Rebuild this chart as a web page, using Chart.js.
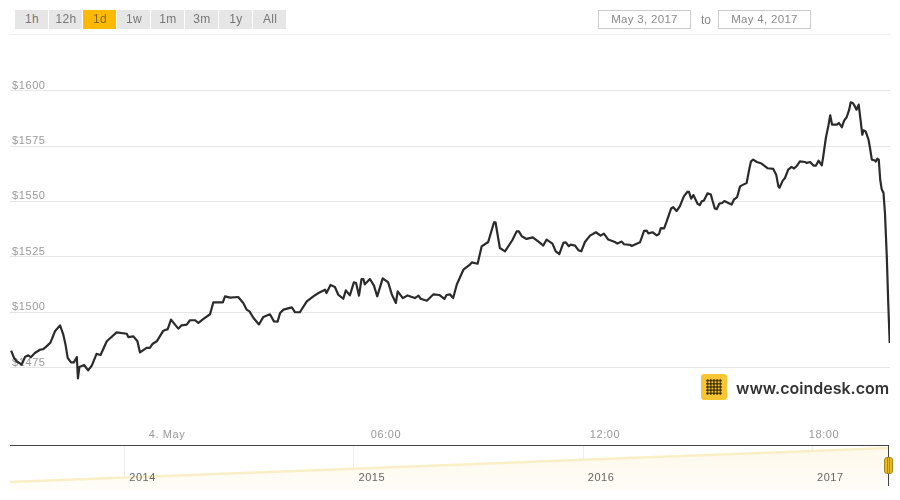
<!DOCTYPE html>
<html lang="en">
<head>
<meta charset="UTF-8">
<title>Bitcoin price - May 3, 2017 to May 4, 2017</title>
<script src="https://cdn.jsdelivr.net/npm/chart.js@4"></script>
<style>
    html, body { margin: 0; padding: 0; background: #fff; }
    #wrap { position: relative; width: 900px; height: 500px; overflow: hidden; font-family: "Liberation Sans", Arial, sans-serif; }
    canvas { position: absolute; left: 0; }
    #priceChart { top: 0; }
    #navChart { top: 445px; }
    .btn { position: absolute; top: 10px; width: 32px; padding-left: 1px; height: 19px; line-height: 19px; background: #e6e6e6; color: #777; font-size: 12px; letter-spacing: 0.3px; text-align: center; }
    .btn.active { background: #fdb900; color: #806a20; }
    .date { position: absolute; top: 10px; width: 91px; height: 17px; line-height: 17px; border: 1px solid #ccc; color: #888; font-size: 11.5px; letter-spacing: 0.3px; text-align: center; }
    #to { position: absolute; left: 701px; top: 13px; color: #888; font-size: 12px; }
    #topLine { position: absolute; left: 10px; top: 34px; width: 880px; height: 1px; background: #eee; }
    #navTop { position: absolute; left: 10px; top: 445px; width: 879px; height: 1px; border-top: 1px solid #444; }
    #navEnd { position: absolute; left: 888px; top: 445px; width: 1px; height: 41px; background: #444; }
    #handle { position: absolute; left: 884px; top: 457px; width: 7px; height: 15px; background: linear-gradient(90deg, #e8b923 0 2px, #a8861e 2px 3px, #e8b923 3px 4px, #a8861e 4px 5px, #e8b923 5px); border: 1px solid #a8861e; border-radius: 3px; }
    #logo { position: absolute; left: 701px; top: 374px; width: 26px; height: 26px; border-radius: 3px; background: #f9c633; }
    #dots { position: absolute; left: 5px; top: 5px; width: 16px; height: 16px; background-image: radial-gradient(circle, #3a2c08 1.2px, transparent 1.4px); background-size: 3.2px 3.2px; }
    #site { position: absolute; left: 736px; top: 378px; font-family: "Inter", sans-serif; font-weight: 600; font-size: 16px; color: #333; white-space: nowrap; }
</style>
</head>
<body>
<div id="wrap">
    <canvas id="priceChart" width="900" height="445"></canvas>
    <canvas id="navChart" width="900" height="45"></canvas>
    <div id="topLine"></div>
    <div id="ranges"></div>
    <div class="date" style="left:598px">May 3, 2017</div>
    <div id="to">to</div>
    <div class="date" style="left:718px">May 4, 2017</div>
    <div id="logo"><div id="dots"></div></div>
    <div id="site">www.coindesk.com</div>
    <div id="navTop"></div>
    <div id="navEnd"></div>
    <div id="handle"></div>
</div>

<script>
// range buttons
const rangeLabels = ['1h', '12h', '1d', '1w', '1m', '3m', '1y', 'All'];
const activeRange = '1d';

// hours relative to midnight of 4 May
const hours = [
    -4.27, -4.19, -4.12, -3.98, -3.89, -3.80, -3.73, -3.62, -3.48, -3.39, -3.30, -3.19, -3.07, -2.93, -2.84, -2.78, -2.72, -2.63, -2.55, -2.47, -2.44, -2.40, -2.27, -2.16, -2.06, -1.93, -1.82, -1.65, -1.38, -1.10, -1.06, -0.92, -0.81, -0.74, -0.56, -0.47, -0.39, -0.28, -0.10, 0.02, 0.11, 0.22, 0.31, 0.40, 0.54, 0.63, 0.77, 0.86, 1.00, 1.18, 1.27, 1.53, 1.59, 1.73, 1.95, 2.09, 2.18, 2.26, 2.37, 2.52, 2.64, 2.82, 2.93, 3.03, 3.10, 3.19, 3.42, 3.51,
    3.64, 3.83, 4.01, 4.15, 4.33, 4.37, 4.48, 4.60, 4.69, 4.83, 4.90, 5.01, 5.12, 5.18, 5.26, 5.33, 5.38, 5.42, 5.56, 5.67, 5.76, 5.91, 6.06, 6.16, 6.27, 6.32, 6.46, 6.59, 6.79, 6.89, 6.95, 7.12, 7.30, 7.46, 7.60, 7.66, 7.75, 7.84, 7.94, 8.12, 8.30, 8.35, 8.51, 8.62, 8.80, 8.90, 8.96, 9.00, 9.12, 9.26, 9.46, 9.58, 9.64, 9.72, 9.85, 10.02, 10.17,
    10.31, 10.40, 10.56, 10.65, 10.75, 10.86, 10.92, 11.01, 11.06, 11.18, 11.27, 11.35, 11.45, 11.59, 11.75, 11.88, 11.97, 12.09, 12.27, 12.34, 12.46, 12.52, 12.69, 12.73, 12.96, 13.07, 13.14, 13.19, 13.30, 13.42, 13.48,
    13.53, 13.62, 13.69, 13.81, 13.87, 13.96, 14.05, 14.16, 14.26, 14.30, 14.36, 14.42, 14.54, 14.60, 14.65, 14.71, 14.81, 14.90, 14.95, 15.01, 15.06, 15.13, 15.21, 15.27, 15.38, 15.47, 15.53, 15.62, 15.70, 15.79, 15.88, 15.95, 16.00, 16.06, 16.16, 16.29, 16.45, 16.61, 16.69, 16.75, 16.78,
    16.87, 16.93, 17.02, 17.11, 17.18, 17.25, 17.34, 17.48, 17.53, 17.62, 17.71, 17.78, 17.85, 17.94, 17.98, 18.05, 18.12, 18.17, 18.22, 18.35, 18.41, 18.49, 18.55, 18.62, 18.69, 18.73, 18.79, 18.83, 18.89, 18.95, 19.00, 19.05, 19.08, 19.14, 19.22, 19.26, 19.31, 19.38, 19.42, 19.46, 19.50, 19.54, 19.58, 19.63, 19.67, 19.72, 19.76, 19.80
];
const prices = [
    1482.7, 1479.4, 1477.9, 1476.4, 1479.8, 1480.6, 1479.7, 1481.6, 1483.1, 1483.4, 1484.6, 1486.4, 1491.4, 1494.1, 1489.9, 1485.4, 1479.4, 1477.4, 1477.4, 1479.8, 1470.2, 1475.3, 1476.2, 1473.8, 1475.9, 1481.2, 1480.7, 1486.9, 1490.9, 1490.3, 1488.8, 1489.1, 1486.9, 1481.9, 1483.9, 1483.9, 1485.8, 1486.9, 1491.7, 1492.4, 1496.7, 1494.4, 1492.6, 1494.1, 1494.4, 1496.4, 1496.4, 1495.2, 1497.0, 1499.1, 1504.5, 1504.5, 1507.2, 1506.6, 1506.9, 1504.2, 1501.2, 1500.4, 1497.4, 1494.5, 1497.9, 1499.1, 1495.9, 1495.8, 1499.7, 1501.2, 1502.2, 1500.0,
    1500.0, 1504.9, 1507.2, 1508.7, 1510.2, 1508.7, 1512.3, 1511.4, 1508.0, 1506.1, 1509.9, 1507.6, 1513.5, 1513.2, 1507.5, 1515.0, 1515.0, 1512.6, 1515.0, 1512.0, 1507.2, 1515.3, 1513.5, 1508.0, 1504.2, 1509.4, 1506.4, 1507.6, 1506.4, 1507.5, 1506.1, 1505.2, 1508.1, 1507.8, 1506.0, 1507.8, 1508.1, 1506.4, 1512.5, 1519.2, 1521.5, 1522.5, 1521.9, 1529.7, 1531.7, 1537.3, 1540.6, 1540.6, 1529.0, 1527.5, 1532.5, 1536.5, 1536.5, 1534.3, 1533.1, 1533.8, 1532.0,
    1530.1, 1532.8, 1531.0, 1527.5, 1526.3, 1531.3, 1531.6, 1529.8, 1530.5, 1530.1, 1528.0, 1527.5, 1531.7, 1534.6, 1536.1, 1534.6, 1535.5, 1532.8, 1531.7, 1531.0, 1531.9, 1530.7, 1530.4, 1529.9, 1531.6, 1536.7, 1536.8, 1535.6, 1536.1, 1534.7, 1535.3,
    1538.0, 1537.9, 1541.0, 1546.8, 1547.4, 1545.7, 1547.8, 1552.3, 1554.4, 1554.3, 1551.3, 1552.9, 1548.9, 1548.4, 1550.1, 1550.4, 1553.7, 1553.1, 1550.1, 1546.8, 1546.5, 1549.0, 1549.3, 1550.2, 1549.3, 1548.6, 1550.8, 1552.0, 1556.8, 1557.6, 1558.3, 1564.4, 1568.1, 1568.9, 1567.8, 1567.1, 1565.0, 1564.7, 1562.1, 1556.8, 1556.2,
    1559.4, 1560.6, 1564.4, 1565.6, 1564.9, 1565.9, 1568.1, 1567.8, 1567.4, 1567.8, 1566.2, 1566.2, 1568.4, 1566.3, 1570.4, 1578.6, 1584.2, 1588.9, 1584.7, 1584.7, 1585.4, 1583.5, 1586.5, 1588.0, 1591.4, 1594.7, 1594.4, 1593.4, 1591.4, 1593.7, 1586.9, 1580.1, 1582.1, 1581.6, 1577.9, 1574.1, 1568.9, 1568.6, 1568.0, 1569.3, 1568.9, 1559.8, 1555.6, 1553.8, 1544.8, 1525.2, 1504.2, 1486.1
];
const priceTicks = [1475, 1500, 1525, 1550, 1575, 1600];
const hourTicks = [0, 6, 12, 18];
const hourLabels = ['4. May', '06:00', '12:00', '18:00'];

// navigator, all time overview
const navYears = [2013.5, 2014, 2015, 2016, 2017, 2017.33];
const navValues = [8, 12.4, 21.3, 30.2, 39, 42];
const navTicks = [2014, 2015, 2016, 2017];

rangeLabels.forEach((label, i) => {
    const b = document.createElement('div');
    b.className = 'btn' + (label === activeRange ? ' active' : '');
    b.style.left = (15 + i * 34) + 'px';
    b.textContent = label;
    document.getElementById('ranges').appendChild(b);
});

// tick text is slightly spaced in the original
const spacing = { id: 'spacing', beforeDraw(chart) { chart.ctx.letterSpacing = '0.6px'; } };

new Chart(document.getElementById('priceChart'), {
    type: 'line',
    plugins: [spacing],
    data: {
        datasets: [{
            data: hours.map((h, i) => ({ x: h, y: prices[i] })),
            borderColor: '#2b2b2b',
            borderWidth: 2.2,
            borderJoinStyle: 'round',
            pointRadius: 0,
            tension: 0
        }]
    },
    options: {
        responsive: false,
        animation: false,
        layout: { padding: { left: 10, right: 10, top: 35, bottom: 0 } },
        plugins: { legend: { display: false }, tooltip: { enabled: false } },
        scales: {
            x: {
                type: 'linear',
                min: -4.301,
                max: 19.808,
                afterBuildTicks: s => { s.ticks = hourTicks.map(v => ({ value: v })); },
                afterFit: s => { s.height = 20; },
                grid: { display: false, drawTicks: false },
                border: { display: false },
                ticks: {
                    autoSkip: false,
                    maxRotation: 0,
                    padding: 3,
                    color: '#999',
                    font: { family: 'Liberation Sans', size: 11 },
                    callback: v => hourLabels[hourTicks.indexOf(v)]
                }
            },
            y: {
                min: 1449.13,
                max: 1625.12,
                afterBuildTicks: s => { s.ticks = priceTicks.map(v => ({ value: v })); },
                afterFit: s => { s.width = 0; },
                grid: { color: '#e6e6e6', drawTicks: false },
                border: { display: false },
                ticks: {
                    mirror: true,
                    padding: 2,
                    labelOffset: -5,
                    color: '#999',
                    font: { family: 'Liberation Sans', size: 11 },
                    callback: v => '$' + v
                }
            }
        }
    }
});

const navCanvas = document.getElementById('navChart');
const navFill = navCanvas.getContext('2d').createLinearGradient(0, 0, 0, 45);
navFill.addColorStop(0, '#fdf8ea');
navFill.addColorStop(1, '#fffdf8');

new Chart(navCanvas, {
    type: 'line',
    plugins: [spacing],
    data: {
        datasets: [{
            data: navYears.map((y, i) => ({ x: y, y: navValues[i] })),
            borderColor: '#f9efc6',
            borderWidth: 2.5,
            backgroundColor: navFill,
            fill: 'start',
            pointRadius: 0,
            tension: 0
        }]
    },
    options: {
        responsive: false,
        animation: false,
        layout: { padding: { left: 10, right: 12, top: 0, bottom: 0 } },
        plugins: { legend: { display: false }, tooltip: { enabled: false } },
        scales: {
            x: {
                type: 'linear',
                min: 2013.5,
                max: 2017.33,
                position: { y: 19 },
                afterBuildTicks: s => { s.ticks = navTicks.map(v => ({ value: v })); },
                grid: { color: '#eeeeee', drawTicks: false },
                border: { display: false },
                ticks: {
                    z: 1,
                    autoSkip: false,
                    maxRotation: 0,
                    padding: 0,
                    labelOffset: 18,
                    color: '#666',
                    font: { family: 'Liberation Sans', size: 11 },
                    callback: v => String(v)
                }
            },
            y: { display: false, min: 0, max: 45 }
        }
    }
});
</script>
</body>
</html>
